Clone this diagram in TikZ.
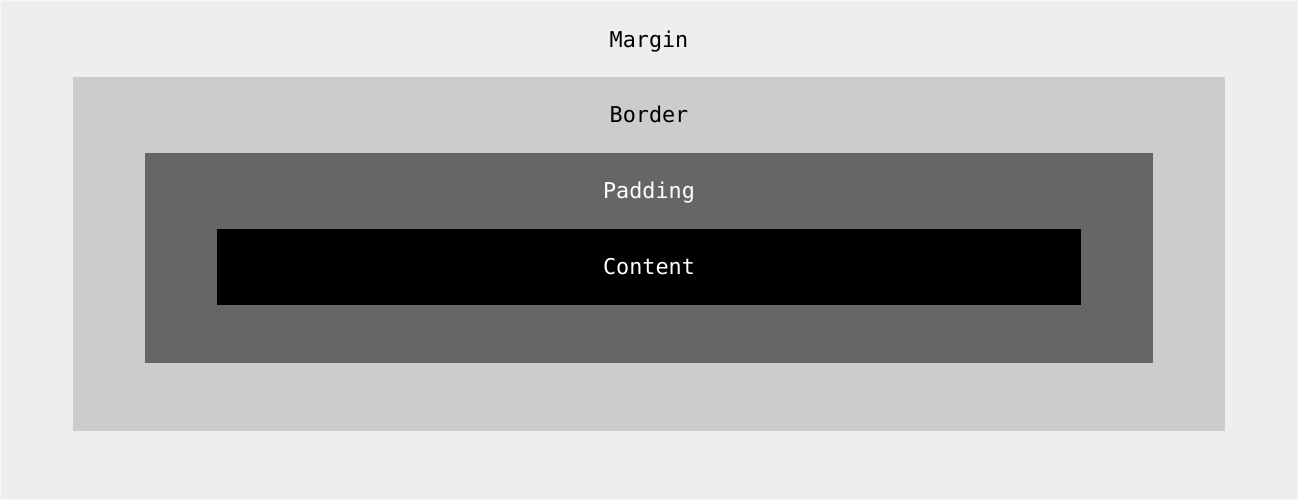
\documentclass[tikz,border=0pt]{standalone}
\usepackage{fontspec}
\setmonofont{DejaVu Sans Mono}
\usepackage{tikz}
\usetikzlibrary{positioning}

\definecolor{margincol}{HTML}{EEEEEE}
\definecolor{bordercol}{HTML}{CCCCCC}
\definecolor{paddingcol}{HTML}{666666}
\definecolor{contentcol}{HTML}{000000}

\begin{document}
\begin{tikzpicture}[x=0.02cm,y=-0.02cm,
  layer/.style={rectangle,inner sep=0,outer sep=0},
  layertext/.style={anchor=base,inner sep=0,font=\ttfamily\fontsize{12.4}{15}\selectfont}]

\useasboundingbox (0,0) rectangle (1298,500);

\node (Margin) at (649,250) [layer,fill=margincol,draw=white!50!margincol,line width=0.02cm,minimum width=25.94cm,minimum height=9.98cm] {};
\node (Border) at (649,254) [layer,fill=bordercol,minimum width=23.04cm,minimum height=7.08cm] {};
\node (Padding) at (649,258) [layer,fill=paddingcol,minimum width=20.16cm,minimum height=4.2cm] {};
\node (Content) at (649,267) [layer,fill=contentcol,minimum width=17.28cm,minimum height=1.52cm] {};

\node (MarginText) at (649,48) [layertext,text=black] {Margin};
\node (BorderText) at (649,123) [layertext,text=black] {Border};
\node (PaddingText) at (649,198) [layertext,text=white] {Padding};
\node (ContentText) at (649,274) [layertext,text=white] {Content};

\end{tikzpicture}
\end{document}
